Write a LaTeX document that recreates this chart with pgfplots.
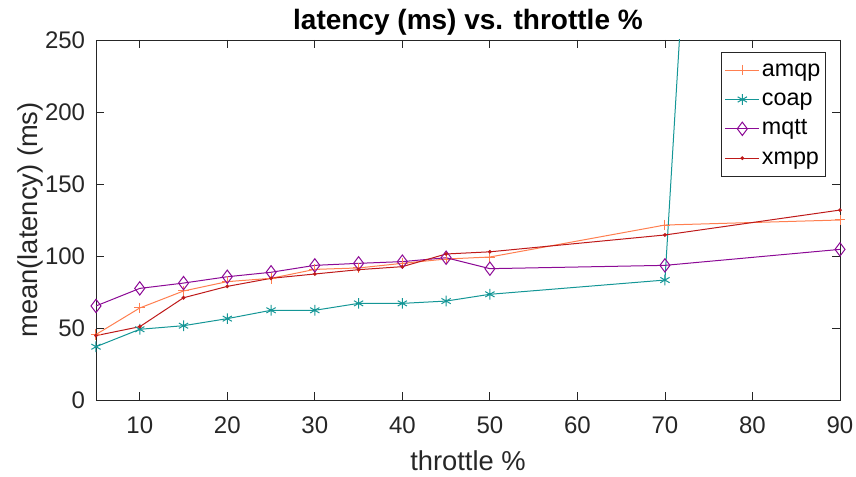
\documentclass[border=0pt]{standalone}
\usepackage{pgfplots}
\pgfplotsset{compat=1.18}
\usepackage{fontspec}
\setmainfont{Liberation Sans}
\definecolor{camqp}{RGB}{255,127,80}
\definecolor{ccoap}{RGB}{20,150,150}
\definecolor{cmqtt}{RGB}{140,10,150}
\definecolor{cxmpp}{RGB}{190,25,25}
\definecolor{axgray}{RGB}{38,38,38}
\begin{document}
\begin{tikzpicture}
% fixed page frame around the axis box
\useasboundingbox (-72pt,-57.75pt) rectangle (570pt,300pt);
\begin{axis}[
  at={(0,0)}, anchor=south west,
  scale only axis,
  width=558pt, height=270pt,
  xmin=5, xmax=90, ymin=0, ymax=250,
  xtick={10,20,...,90}, ytick={0,50,...,250},
  tick align=inside, tick pos=both,
  major tick length=6pt,
  axis line style={axgray, line width=0.6pt},
  every tick/.style={axgray, line width=0.6pt},
  tick label style={font=\fontsize{18}{21}\selectfont, text=axgray},
  xticklabel style={inner sep=0pt, yshift=-12pt},
  yticklabel style={inner sep=0pt, xshift=-8pt},
  /pgf/number format/assume math mode=true,
  xlabel={throttle \%}, ylabel={mean(latency) (ms)},
  label style={font=\fontsize{20.5}{24}\selectfont, text=axgray},
  xlabel style={at={(axis description cs:0.5,0)}, anchor=base, yshift=-53pt},
  ylabel style={at={(axis description cs:-0.078,0.5)}, anchor=base},
  title={\textbf{latency (ms) vs. throttle \%}},
  title style={font=\fontsize{21}{24}\selectfont, at={(axis description cs:0.5,1)}, anchor=base, yshift=2pt},
  legend style={at={(0.981,0.967)}, anchor=north east, draw=axgray,
    font=\fontsize{17.5}{21}\selectfont, inner sep=2.5pt, row sep=0pt,
    nodes={inner xsep=1.5pt, inner ysep=3pt, text height=12.5pt, text depth=3.5pt},
    cells={anchor=west}},
  legend cell align=left,
  legend image code/.code={\draw[mark repeat=2,mark phase=2]
    plot coordinates {(0cm,0cm) (0.45cm,0cm) (0.9cm,0cm)};},
  every axis plot/.append style={line width=0.75pt},
]
\addplot[camqp, mark=+, mark size=4pt] coordinates {
 (5,45.5) (10,63.9) (15,75.7) (20,82.2) (25,84.5) (30,90.7) (35,91.7)
 (40,94.9) (45,97.9) (50,99.3) (70,121.5) (90,125)};
\addlegendentry{amqp}
\addplot[ccoap, mark=asterisk, mark size=4pt] coordinates {
 (5,37) (10,49.1) (15,51.6) (20,56.5) (25,62.3) (30,62.3) (35,67.1)
 (40,67.1) (45,68.7) (50,73.4) (70,83.3) (90,2100)};
\addlegendentry{coap}
\addplot[cmqtt, mark=diamond, mark size=5pt] coordinates {
 (5,65.3) (10,77.5) (15,81.2) (20,85.6) (25,88.7) (30,93.5) (35,94.9)
 (40,96.1) (45,98.8) (50,91.2) (70,93.5) (90,104.6)};
\addlegendentry{mqtt}
\addplot[cxmpp, mark=*, mark size=1pt] coordinates {
 (5,44.7) (10,50.9) (15,71) (20,78.9) (25,84.5) (30,87.5) (35,90.5)
 (40,92.6) (45,101.4) (50,102.9) (70,114.6) (90,131.9)};
\addlegendentry{xmpp}
\end{axis}
\end{tikzpicture}
\end{document}
